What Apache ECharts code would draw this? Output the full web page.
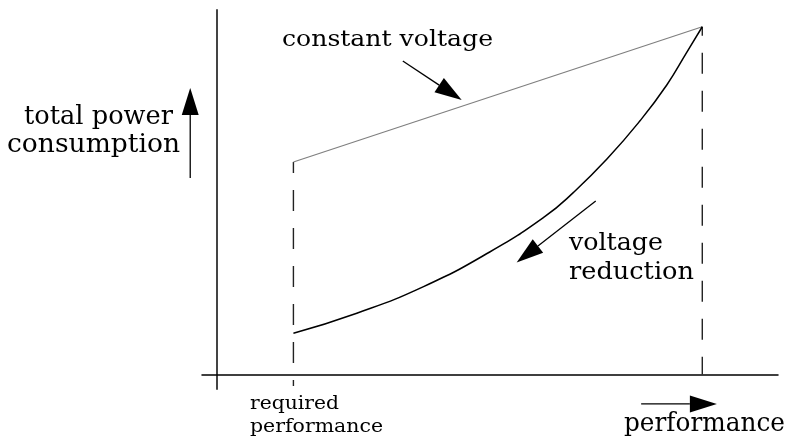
<!DOCTYPE html>
<html>
<head>
<meta charset="utf-8">
<script src="https://cdn.jsdelivr.net/npm/echarts@6/dist/echarts.min.js"></script>
<style>
html, body { margin: 0; padding: 0; background: #fff; }
#main { width: 790px; height: 442px; }
</style>
</head>
<body>
<div id="main"></div>
<script>
// performance (x) / total power (y), arbitrary units
var constantVoltage = [[13.6, 58.3], [86.5, 95.4]];
var voltageReduction = [[13.6, 11.3], [24.9, 16.8], [36.8, 24.1], [48.6, 33.6], [58.4, 43.3],
	[63.5, 49.9], [69.5, 59.1], [75.4, 69.6], [80.2, 79.5], [83.7, 88.3], [86.5, 95.4]];
var requiredMarker = [[13.6, 58.3], [13.6, -3.2]];
var maxMarker = [[86.5, 95.4], [86.5, 0]];
// annotation arrows: [x1, y1, x2 (tip), y2 (tip)]
var arrows = [[33.1, 86.0, 43.6, 75.3], [67.5, 47.6, 53.4, 30.7], [-4.8, 53.9, -4.8, 78.6], [75.6, -8.1, 89.1, -8.1]];
var labels = ['constant voltage', 'total power', 'consumption', 'voltage', 'reduction', 'required', 'performance', 'performance'];

// left, baseline, width, font size (px)
var labelBoxes = [[282, 47, 211, 22], [24, 125, 149, 26], [7, 153, 173, 26], [569, 251, 94, 24],
	[569, 280, 125, 24], [250, 410, 89, 19], [250, 433, 133, 19], [624, 432, 161, 26]];

var FONT = '"DejaVu Serif", serif';
var ctx = document.createElement('canvas').getContext('2d');

var texts = labels.map(function (t, i) {
	var b = labelBoxes[i];
	ctx.font = b[3] + 'px ' + FONT;
	var w = ctx.measureText(t).width;
	return {
		type: 'text',
		x: b[0],
		y: b[1] - 0.3 * b[3],
		scaleX: b[2] / w,
		silent: true,
		style: {
			text: t,
			font: b[3] + 'px ' + FONT,
			fill: '#000',
			textAlign: 'left',
			verticalAlign: 'middle',
			textVerticalAlign: 'middle'
		}
	};
});

var myChart = echarts.init(document.getElementById('main'));
var option = {
	animation: false,
	grid: { left: 202, right: 12, top: 10, bottom: 53, containLabel: false },
	xAxis: {
		type: 'value', min: -2.7, max: 100,
		axisLine: { show: true, onZero: true, lineStyle: { color: '#000', width: 1.5 } },
		axisTick: { show: false }, axisLabel: { show: false }, splitLine: { show: false }
	},
	yAxis: {
		type: 'value', min: -4, max: 100,
		axisLine: { show: true, onZero: true, lineStyle: { color: '#444', width: 2 } },
		axisTick: { show: false }, axisLabel: { show: false }, splitLine: { show: false }
	},
	graphic: texts,
	series: [
		{
			type: 'line', data: requiredMarker, symbol: 'none', clip: false,
			lineStyle: { color: '#222', width: 1.4, type: [21, 17], dashOffset: 10 }
		},
		{
			type: 'line', data: maxMarker, symbol: 'none', clip: false,
			lineStyle: { color: '#222', width: 1.4, type: [21, 17], dashOffset: 12 }
		},
		{
			name: 'constant voltage', type: 'line', data: constantVoltage, symbol: 'none',
			lineStyle: { color: '#7f7f7f', width: 1.2 }
		},
		{
			name: 'voltage reduction', type: 'line', data: voltageReduction, symbol: 'none',
			smooth: 0.5,
			lineStyle: { color: '#000', width: 1.5 }
		},
		{
			type: 'custom', data: arrows, clip: false, silent: true,
			renderItem: function (params, api) {
				var p1 = api.coord([api.value(0), api.value(1)]);
				var p2 = api.coord([api.value(2), api.value(3)]);
				var dx = p2[0] - p1[0], dy = p2[1] - p1[1];
				var len = Math.sqrt(dx * dx + dy * dy);
				var ux = dx / len, uy = dy / len, L = 27, W = 17;
				var bx = p2[0] - ux * L, by = p2[1] - uy * L;
				return {
					type: 'group',
					children: [
						{ type: 'line', shape: { x1: p1[0], y1: p1[1], x2: bx, y2: by }, style: { stroke: '#000', lineWidth: 1.3 } },
						{ type: 'polygon', shape: { points: [p2, [bx - uy * W / 2, by + ux * W / 2], [bx + uy * W / 2, by - ux * W / 2]] }, style: { fill: '#000' } }
					]
				};
			}
		}
	]
};
myChart.setOption(option);
</script>
</body>
</html>
